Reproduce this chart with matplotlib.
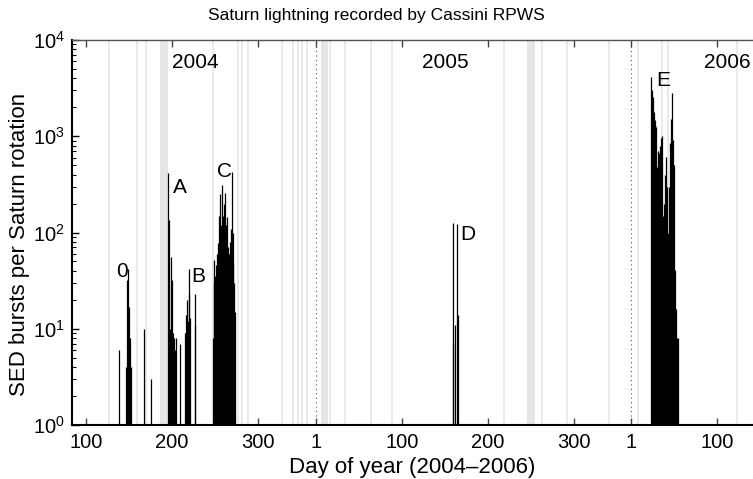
import matplotlib
matplotlib.use('Agg')
import matplotlib.pyplot as plt
from matplotlib.ticker import FixedLocator, FixedFormatter, LogLocator, NullFormatter

plt.rcParams['font.family'] = ['Liberation Sans', 'DejaVu Sans']
plt.rcParams['mathtext.default'] = 'regular'

# day offsets so the three years sit on one continuous axis
YEAR_OFFSET = {2004: 0, 2005: 366, 2006: 731}

# SED bursts per Saturn rotation
days_2004 = [139, 147, 148, 149, 150, 151, 152, 167, 176,
             195, 196, 198, 199, 200, 201, 202, 203, 204, 209,
             215, 216, 217, 218, 219, 220, 221, 226, 227,
             247, 248, 249, 250, 251, 252, 253, 254, 255, 256, 257, 258, 259,
             260, 261, 262, 263, 264, 265, 266, 267, 268, 269, 270, 271, 272, 273]
counts_2004 = [6, 4, 32, 42, 17, 8, 4, 10, 3,
               415, 134, 10, 56, 32, 9, 8, 6, 8, 7,
               9, 14, 20, 12, 42, 23, 13, 11, 23,
               8, 30, 52, 35, 46, 60, 78, 150, 100, 250, 120, 310, 150,
               200, 257, 90, 120, 145, 70, 60, 80, 110, 430, 100, 48, 30, 15]

days_2005 = [159, 160, 162, 164, 165]
counts_2005 = [7, 127, 11, 122, 14]

days_2006 = [24, 25, 26, 27, 28, 29, 30, 31, 32, 33, 34, 35, 36,
             38, 39, 40, 41, 42, 43,
             45, 46, 47, 48, 49, 50, 51, 52, 53, 54, 55]
counts_2006 = [4100, 3000, 2570, 1800, 1480, 1300, 1260, 480, 700, 670, 800, 950, 1000,
               150, 200, 400, 610, 300, 100,
               300, 850, 1500, 2800, 910, 500, 41, 41, 16, 8, 8]

# data gaps (light grey)
gap_lines_2004 = [127, 159, 170, 247, 276, 281, 288, 327, 340, 346, 350, 356]
gap_bands_2004 = [(186, 195)]
gap_lines_2005 = [17, 34, 64, 89, 219, 263, 291, 340]
gap_bands_2005 = [(6, 15), (245, 254)]
gap_lines_2006 = [9, 37, 44, 124]

tick_years = [2004, 2004, 2004, 2005, 2005, 2005, 2005, 2006, 2006]
tick_days = [100, 200, 300, 1, 100, 200, 300, 1, 100]

# event labels: (text, year, day, y)
event_labels = [('0', 2004, 142, 39), ('A', 2004, 209, 290), ('B', 2004, 230, 35),
                ('C', 2004, 261, 435), ('D', 2005, 177, 96), ('E', 2006, 38, 3830)]
year_labels = [('2004', 2004, 200), ('2005', 2005, 124), ('2006', 2006, 85)]


def t(year, day):
    return YEAR_OFFSET[year] + day


fig = plt.figure(figsize=(7.53, 4.79), dpi=100)
ax = fig.add_axes([0.0956, 0.1127, 0.9044, 0.8038])
ax.set_yscale('log')

grey = '#e6e6e6'
for year, lines, bands in [(2004, gap_lines_2004, gap_bands_2004),
                           (2005, gap_lines_2005, gap_bands_2005),
                           (2006, gap_lines_2006, [])]:
    for d in lines:
        ax.axvline(t(year, d), color=grey, lw=1.2, zorder=0)
    for d0, d1 in bands:
        ax.axvspan(t(year, d0), t(year, d1), color=grey, lw=0, zorder=0)

# year boundaries
for year in [2005, 2006]:
    ax.axvline(t(year, 1), color='#555555', lw=0.8, ls=(0, (1, 3)), zorder=1)

for year, days, counts in [(2004, days_2004, counts_2004),
                           (2005, days_2005, counts_2005),
                           (2006, days_2006, counts_2006)]:
    ax.vlines([t(year, d) for d in days], 1, counts, color='black', lw=0.9, zorder=2)

for txt, year, day, y in event_labels:
    ax.text(t(year, day), y, txt, fontsize=15, ha='center', va='center', zorder=3)
for txt, year, day in year_labels:
    ax.text(t(year, day), 5900, txt, fontsize=15, ha='left', va='center', zorder=3)

ax.set_xlim(84, 873)
ax.set_ylim(1, 1e4)

ax.xaxis.set_major_locator(FixedLocator([t(y, d) for y, d in zip(tick_years, tick_days)]))
ax.xaxis.set_major_formatter(FixedFormatter([str(d) for d in tick_days]))
ax.yaxis.set_major_locator(LogLocator(base=10, numticks=10))
ax.yaxis.set_minor_locator(LogLocator(base=10, subs=range(2, 10), numticks=10))
ax.yaxis.set_minor_formatter(NullFormatter())

ax.tick_params(axis='x', which='major', direction='in', length=5, width=1,
               top=True, bottom=True, color='#444444', labelsize=14.5, pad=6)
ax.tick_params(axis='y', which='major', direction='in', length=5, width=1,
               left=True, right=False, labelsize=14.5, pad=5)
ax.tick_params(axis='y', which='minor', direction='in', length=3, width=0.8,
               left=True, right=False)

for side in ['left', 'bottom']:
    ax.spines[side].set_linewidth(1.5)
ax.spines['top'].set_linewidth(1.0)
ax.spines['top'].set_color('#555555')
ax.spines['right'].set_visible(False)

fig.text(0.5, 0.968, 'Saturn lightning recorded by Cassini RPWS', fontsize=12.5,
         ha='center', va='center')
ax.set_xlabel('Day of year (2004\u20132006)', fontsize=16, labelpad=3)
ax.set_ylabel('SED bursts per Saturn rotation', fontsize=16)
ax.yaxis.set_label_coords(-0.062, 0.47)

fig.savefig('out.png', dpi=100)
